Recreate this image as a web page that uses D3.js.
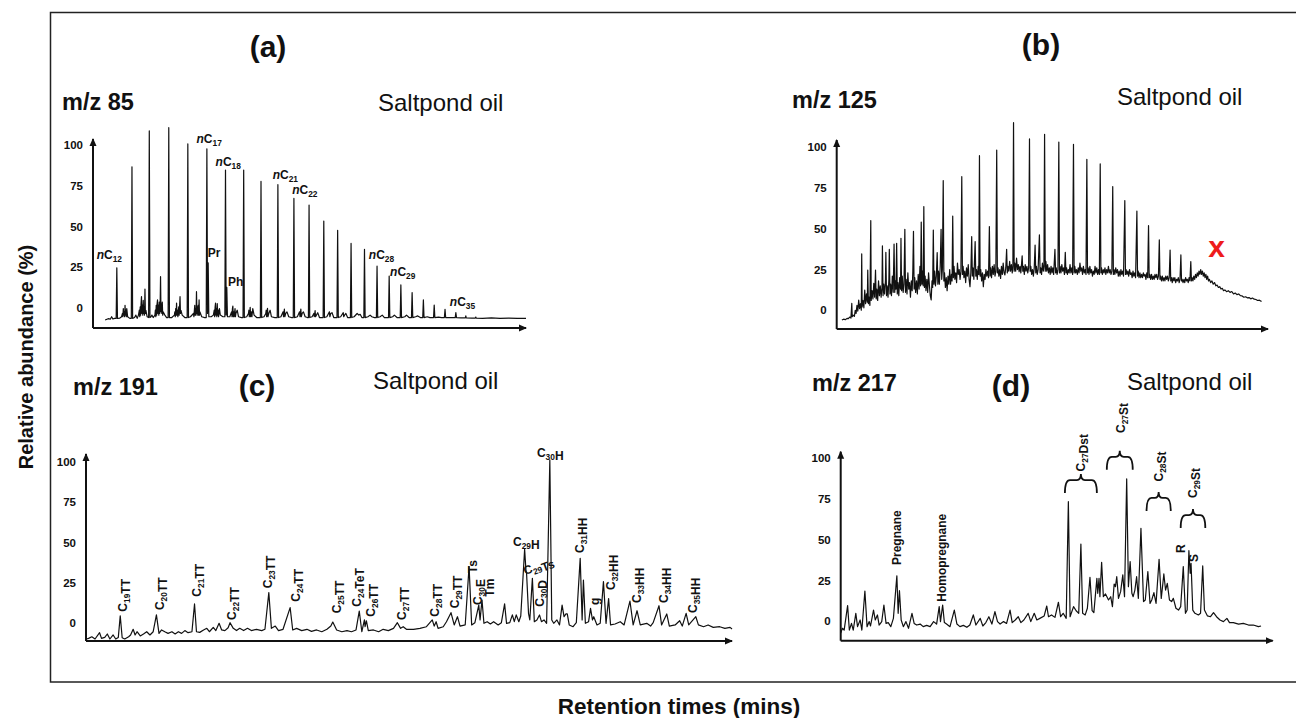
<!DOCTYPE html>
<meta charset="utf-8">
<style>
body { margin: 0; background: #fff; }
svg text { font-family: "Liberation Sans", Arial, sans-serif; fill: #111; }
.trace { fill: none; stroke: #111; stroke-width: 1.2px; stroke-linejoin: round; }
.axis-line { stroke: #111; stroke-width: 2px; }
.bracket { fill: none; stroke: #111; stroke-width: 1.8px; }
.tick text { font-size: 11.5px; font-weight: bold; }
.peak-label { font-size: 12px; font-weight: bold; }
</style>
<svg width="1296" height="718"></svg>
<script src="https://d3js.org/d3.v7.min.js"></script>
<script>

// ---- data: [retention (0-100 along axis), relative abundance %] ----

// m/z 85, n-alkanes with UCM clusters
var m85Trace = [[2.8,0],[3.5,0.8],[4.0,0.5],[4.3,2],[4.6,0.6],[5.0,1],
  [5.35,1],[5.5,32],[5.65,1],
  [6.2,1.2],[6.6,2],[6.8,4],[6.9,2],[7.0,7],[7.1,3],[7.2,5],[7.3,2],[7.4,9],[7.5,3],[7.6,6],[7.7,2],[7.8,7],[8.0,2],[8.5,1],
  [8.85,1],[9.0,94],[9.15,1],
  [9.6,1.5],[9.9,3],[10.2,1],[10.5,3],[10.7,6],[10.8,2],[10.9,8],[11.0,3],[11.1,10],[11.2,14.3],[11.3,4],[11.4,9],[11.5,3],[11.6,12],[11.7,4],[11.8,8],[11.9,3],[12.0,19],[12.1,4],[12.2,6],[12.5,2],
  [12.85,1.5],[13.0,116],[13.15,1.5],
  [13.4,2],[13.6,3],[13.9,1.5],[14.3,3],[14.4,6],[14.5,2],[14.6,9],[14.7,3],[14.8,10],[14.9,12.3],[15.0,4],[15.1,9],[15.2,3],[15.3,11],[15.4,4],[15.5,8],[15.6,26.6],[15.7,5],[15.8,10],[15.9,4],[16.0,11],[16.1,3],[16.2,5],[16.6,3],[17.0,1.5],
  [17.35,1.5],[17.5,118],[17.65,1.5],
  [18.2,1.5],[18.8,3],[18.9,5],[19.0,2],[19.1,7],[19.2,3],[19.3,10.4],[19.4,3],[19.5,6],[19.6,2],[19.8,8],[19.9,3],[20.1,14.3],[20.2,4],[20.3,6],[20.6,3],[21.2,1.5],
  [21.75,1.5],[21.9,108],[22.05,1.5],
  [22.5,2],[23.2,4],[23.3,2],[23.5,9],[23.6,3],[23.7,7],[23.8,3],[23.9,17.4],[24.0,4],[24.1,8],[24.2,3],[24.3,9],[24.4,3],[24.5,12.3],[24.6,3],[24.7,5],[25.1,2],[25.8,1.5],
  [26.15,1.5],[26.3,105],[26.45,4],[26.6,35],[26.75,2],
  [27.3,2],[27.8,3],[28.0,6],[28.1,2],[28.2,8],[28.3,10.4],[28.4,3],[28.5,7],[28.6,2],[28.7,10],[28.8,3],[28.9,6],[29.0,2],[29.2,7],[29.4,3],[30.0,2],
  [30.45,2],[30.6,92],[30.75,3],[30.9,20],[31.05,2],
  [31.6,2],[32.0,5],[32.1,2],[32.2,7],[32.3,8.6],[32.4,2],[32.5,5],[32.6,2],[32.8,7],[32.9,2],[33.0,4],[33.3,6],[33.6,2],[34.3,1.5],
  [34.65,1.5],[34.8,92],[34.95,1.5],
  [35.5,2],[35.9,4],[36.0,6],[36.1,2],[36.3,7.8],[36.4,2],[36.6,5],[36.7,2],[36.9,7],[37.2,3],[37.8,1.5],
  [38.65,1.5],[38.8,85],[38.95,1.5],
  [39.5,2],[39.9,4],[40.0,6],[40.1,2],[40.3,7.2],[40.4,2],[40.6,4],[40.9,6],[41.2,2],[42.0,1.5],
  [42.55,1.5],[42.7,83],[42.85,1.5],
  [43.4,2],[43.9,5],[44.0,2],[44.2,6.7],[44.3,2],[44.5,4],[44.8,5],[45.2,2],[45.9,1.5],
  [46.25,1.5],[46.4,74.6],[46.55,1.5],
  [47.2,2],[47.7,5],[47.8,2],[48.0,6.7],[48.1,2],[48.3,4],[48.6,5],[49.0,2],[49.5,1.5],
  [49.75,1.5],[49.9,70.5],[50.05,1.5],
  [50.6,2],[51.0,4],[51.1,2],[51.3,5.7],[51.4,2],[51.6,3],[51.9,4.5],[52.3,1.5],
  [53.15,1.5],[53.3,60.7],[53.45,1.5],
  [54.0,2],[54.6,5],[54.7,2],[54.9,4],[55.2,4.5],[55.6,1.5],
  [56.35,1.5],[56.5,55],[56.65,1.5],
  [57.2,2],[57.8,4.5],[57.9,2],[58.1,3],[58.4,4],[58.8,1.5],
  [59.45,1.5],[59.6,47],[59.75,1.5],
  [60.3,2],[61.0,4],[61.4,3],[61.7,3.5],[62.1,1.5],
  [62.55,1.5],[62.7,43.4],[62.85,1.5],
  [63.5,2],[64.0,3],[64.4,2],[65.0,1.5],
  [65.45,1.5],[65.6,33],[65.75,1.5],
  [66.3,2],[66.8,3],[67.3,1.5],
  [68.25,1.5],[68.4,27],[68.55,1.5],
  [69.2,2],[69.6,3],[70.2,1.5],
  [70.95,1.5],[71.1,21.5],[71.25,1.5],
  [72.0,2],[72.4,3],[73.0,1.5],
  [73.55,1.5],[73.7,16.8],[73.85,1.5],
  [74.5,2],[75.0,2.5],[75.6,1.5],
  [76.15,1.5],[76.3,12.3],[76.45,1.5],
  [77.2,2],[77.8,1.5],
  [78.65,1.5],[78.8,9.2],[78.95,1.5],
  [79.8,1.8],[80.5,1.5],
  [81.15,1.5],[81.3,6.5],[81.45,1.5],
  [82.5,1.5],
  [83.65,1.5],[83.8,4.5],[83.95,1.5],
  [85,1.3],[86,1.3],[86.1,2.6],[86.2,1.3],
  [87.5,1.2],[88.3,1.2],[88.4,1.8],[88.5,1.2],
  [90,1],[92,1.3],[94,1],[96,1.2],[98,1],[100,1]];

var m85Labels = [["nC_12",0.85,37.4],["nC_17",23.9,108.6],["nC_18",28.3,94.5],["Pr",26.5,38.7],
  ["Ph",31.2,20.9],["nC_21",41.5,86.5],["nC_22",46.0,77.3],["nC_28",63.7,37.4],
  ["nC_29",68.6,27],["nC_35",82.4,8.6]];

// m/z 125, alkylbenzenes on a hump
var m125Trace = [[1.2,0],[1.6,0.5],[2.0,0.2],[2.4,1],[2.7,0.8],[3.0,1.8],[3.3,1.2],[3.5,10.2],[3.6,2],
  [3.8,3],[4.1,2.2],[4.3,6],[4.5,4],[4.7,9],[4.9,5.5],[5.1,12.3],[5.3,7],[5.5,10],[5.7,6],[5.8,40.6],
  [5.9,8],[6.1,12],[6.3,7.5],[6.5,18.4],[6.7,10],[6.9,16],[7.1,11],[7.2,30.7],[7.35,10],[7.5,14],
  [7.7,9],[7.9,61.1],[8.0,12],[8.2,18],[8.4,13],[8.6,22.5],[8.8,14],[9.0,30.7],[9.15,13],[9.3,19],
  [9.5,12],[9.7,24],[9.9,15],[10.1,21],[10.3,14],[10.5,20],[10.6,45.5],[10.75,15],[10.9,22],[11.1,16],
  [11.3,24],[11.4,41.6],[11.55,15],[11.7,21],[11.9,14],[12.1,25],[12.2,43.4],[12.35,16],[12.5,22],
  [12.7,15],[12.9,27],[13.1,17],[13.3,46.7],[13.45,17],[13.6,24],[13.75,19],[13.9,47.1],[14.05,16],
  [14.2,23],[14.4,15],[14.6,26],[14.8,19],[14.9,50.2],[15.05,18],[15.2,27],[15.4,17],[15.6,22],
  [15.8,55.7],[15.95,17],[16.1,25],[16.3,16],[16.5,29],[16.7,19],[16.9,23],[17.1,14],[17.3,24],
  [17.5,18],[17.65,30],[17.8,54.5],[17.95,19],[18.1,26],[18.3,17],[18.5,24],[18.7,16],[18.9,28],
  [19.1,19],[19.3,33],[19.45,21],[19.6,60.2],[19.75,22],[19.9,30],[20.05,21],[20.2,69.7],[20.35,20],
  [20.5,27],[20.7,18],[20.9,25],[21.1,17],[21.3,29],[21.5,21],[21.7,15],[21.9,12.3],[22.1,24],
  [22.25,20],[22.4,55.3],[22.55,22],[22.7,30],[22.9,21],[23.1,27],[23.3,41.4],[23.45,22],[23.6,30],
  [23.8,22],[24.0,33],[24.2,55.7],[24.35,25],[24.5,31],[24.7,85.7],[24.85,24],[25.0,29],[25.2,20],
  [25.4,26],[25.6,18],[25.8,27],[26.0,22],[26.2,31],[26.4,22],[26.6,28],[26.75,24],[26.9,63.9],
  [27.05,26],[27.2,33],[27.4,25],[27.6,29],[27.8,23],[28.0,35],[28.2,28],[28.4,31],[28.6,25],[28.8,30],
  [29.0,88.1],[29.15,28],[29.3,33],[29.5,26],[29.7,30],[29.9,23],[30.1,32],[30.3,27],[30.5,34],
  [30.7,25],[30.9,20.5],[31.1,29],[31.3,51.2],[31.45,27],[31.6,32],[31.8,25],[32.1,48.2],[32.25,27],
  [32.4,31],[32.6,25],[32.8,33],[32.95,28],[33.1,101],[33.25,27],[33.4,31],[33.6,24],[33.8,29],
  [34.0,20.5],[34.2,28],[34.4,25],[34.6,31],[34.8,27],[35.0,30],[35.2,26],[35.4,57.4],[35.55,27],
  [35.7,32],[35.9,26],[36.1,33],[36.3,28],[36.5,34],[36.7,27],[36.9,30],[37.1,104.5],[37.25,29],
  [37.4,32],[37.6,27],[37.8,31],[38.0,25.6],[38.2,33],[38.4,28],[38.6,35],[38.8,29],[39.0,27.7],
  [39.2,32],[39.4,43.4],[39.55,29],[39.7,33],[39.9,30],[40.1,36],[40.3,30],[40.5,34],[40.7,29],
  [40.85,33],[41.0,121.3],[41.15,30],[41.3,35],[41.5,30],[41.7,38],[41.9,31],[42.1,34],[42.3,29.7],
  [42.5,33],[42.7,29],[43.0,39.5],[43.15,30],[43.3,33],[43.5,28],[43.7,34],[43.9,30],[44.1,33],
  [44.3,29],[44.5,32],[44.7,111.3],[44.85,30],[45.0,33],[45.2,28],[45.4,31],[45.6,27],[45.8,32],
  [46.0,46.1],[46.15,29],[46.3,33],[46.5,28],[46.7,31],[47.0,52.3],[47.15,29],[47.3,32],[47.5,28],
  [47.7,35],[47.9,30],[48.05,33],[48.2,114.1],[48.35,30],[48.5,36],[48.7,30],[48.9,34],[49.1,29],
  [49.3,32],[49.5,28],[49.7,33],[49.9,29],[50.1,32],[50.3,28],[50.6,43.4],[50.75,29],[50.9,32],
  [51.1,28],[51.3,31],[51.5,109.4],[51.65,29],[51.8,33],[52.0,29],[52.2,34],[52.4,30],[52.6,32],
  [52.8,28],[53.0,41.6],[53.15,29],[53.3,32],[53.5,28],[53.7,31],[53.9,29],[54.1,34],[54.3,29],
  [54.5,32],[54.7,28],[54.9,108],[55.05,29],[55.2,33],[55.4,29],[55.6,31],[55.8,28],[56.0,32],
  [56.2,29],[56.4,35],[56.6,30],[56.8,32],[57.0,28],[57.2,33],[57.4,29],[57.6,31],[57.8,28],
  [58.0,98.8],[58.15,29],[58.3,32],[58.5,28],[58.7,33],[58.9,29],[59.1,31],[59.3,27],[59.5,30],
  [59.7,28],[59.9,33],[60.1,29],[60.3,32],[60.5,28],[60.7,31],[60.9,28],[61.1,95.9],[61.25,29],
  [61.4,32],[61.6,28],[61.8,31],[62.0,29],[62.2,32],[62.4,28],[62.6,31],[62.8,29],[63.0,33],
  [63.2,29],[63.4,31],[63.6,28],[63.8,30],[64.0,82],[64.15,28],[64.3,31],[64.5,28],[64.7,32],
  [64.9,29],[65.1,31],[65.3,27],[65.5,30],[65.7,27],[65.9,31],[66.1,28],[66.3,30],[66.5,27],
  [66.8,73.4],[66.95,28],[67.1,31],[67.3,28],[67.5,30],[67.7,27],[67.9,31],[68.1,28],[68.3,29],
  [68.5,26],[68.7,30],[68.9,27],[69.1,29],[69.3,26],[69.6,67],[69.75,27],[69.9,30],[70.1,26],
  [70.3,29],[70.5,26],[70.7,28],[70.9,26],[71.1,29],[71.3,27],[71.5,28],[71.7,25],[71.9,29],
  [72.1,26],[72.3,58],[72.45,26],[72.6,28],[72.8,25],[73.0,28],[73.2,25],[73.4,27],[73.6,25],
  [73.8,28],[74.0,26],[74.2,28],[74.4,25],[74.6,27],[74.8,49.2],[74.95,25],[75.1,27],[75.3,24],
  [75.5,27],[75.7,24],[75.9,26],[76.1,24],[76.3,27],[76.5,25],[76.7,27],[76.9,24],[77.1,26],
  [77.3,43],[77.45,24],[77.6,26],[77.8,23],[78.0,26],[78.2,24],[78.4,26],[78.6,23],[78.8,25],
  [79.0,24],[79.2,26],[79.4,23],[79.6,25],[79.8,40],[79.95,24],[80.1,25],[80.3,23],[80.5,25],
  [80.7,23],[80.9,26],[81.1,24],[81.3,25],[81.5,23],[81.7,26],[81.9,24],[82.1,35.9],[82.25,24],
  [82.4,26],[82.6,24],[82.8,27],[83.0,25],[83.2,28],[83.4,26],[83.6,29],[83.8,27],[84.0,30],
  [84.2,28],[84.4,31],[84.6,28],[84.8,30],[85.0,27],[85.2,29],[85.4,26],[85.6,28],[85.8,25],
  [86.0,27],[86.2,24],[86.4,25],[86.7,23],[87.0,24],[87.3,22],[87.6,23],[87.9,21],[88.2,21.5],
  [88.5,20],[88.8,20.5],[89.1,19],[89.4,19.5],[89.7,18],[90.0,18.5],[90.4,17.4],[90.8,18],[91.2,17],
  [91.6,17.5],[92.0,16],[92.4,16.6],[92.8,15.6],[93.2,16],[93.6,15],[94.0,14.8],[94.4,14],[94.8,14.3],
  [95.2,13.6],[95.6,13.8],[96.0,13],[96.4,13.5],[96.8,12.8],[97.2,12.6],[97.6,12],[98.0,12.2],
  [98.5,11.3]];

var m125Marks = [["x",88.1,38.9]];

// m/z 191, terpanes
var m191Trace = [[0.1,0],[0.4,0.4],[0.9,1.4],[1.4,0],[2.1,3.9],[2.4,0.4],[2.9,1],[3.3,3.1],[3.7,0],
  [4.2,2.5],[4.6,0],[5.0,1],[5.3,14.4],[5.6,0.8],[6.0,0],[6.6,1.4],[6.9,2.5],[7.3,6],[7.6,2.5],
  [7.9,4.5],[8.4,1.9],[8.9,3.1],[9.4,4.5],[9.9,2.5],[10.4,4.5],[10.9,14.9],[11.3,3.5],[11.7,5.6],
  [12.2,4.5],[12.7,3.5],[13.3,4.5],[13.8,3.1],[14.3,4.5],[14.8,3.5],[15.3,5.2],[15.8,3.9],[16.4,4.5],
  [16.8,21.7],[17.1,4.5],[17.6,4.1],[18.2,5.6],[18.7,6.6],[19.1,4.5],[19.7,7.2],[20.1,5.2],[20.6,9.7],
  [21.0,5.6],[21.5,5.2],[22.0,7],[22.3,10.1],[22.8,6.6],[23.3,5.2],[23.8,6.6],[24.4,5.2],[25.0,6.6],
  [25.6,5.2],[26.4,6],[27.2,5.2],[27.7,6],[28.3,28.7],[28.7,6.6],[29.3,8],[29.8,5.2],[30.5,6],
  [31.6,19.4],[32.0,5.6],[32.6,6.6],[33.4,5.2],[34.2,6],[34.9,4.7],[35.7,5.6],[36.5,4.5],[37.3,6],
  [37.9,8],[38.2,10.5],[38.5,8],[38.8,5.6],[39.6,4.5],[40.4,5.2],[41.1,4.5],[41.8,5.6],[42.3,17.3],
  [42.7,4.5],[43.1,11.8],[43.2,7.6],[43.4,11.3],[43.7,5.2],[44.5,5.6],[45.3,4.5],[46.0,6],[46.8,5.2],
  [47.6,6.6],[48.2,10.1],[48.7,6.6],[49.1,7.6],[49.6,6],[50.7,6],[51.7,6.6],[52.7,7.6],[53.6,11.8],
  [53.9,8],[54.2,10.7],[54.5,6.6],[55.3,7.6],[55.8,10.7],[56.5,16.3],[57.0,8.7],[57.5,13.8],[57.9,8],
  [58.7,8.7],[59.3,44.8],[59.7,8.7],[60.2,10.1],[60.8,21],[61.0,11.8],[61.3,24.1],[61.6,9.7],
  [62.1,10.7],[62.6,9.3],[63.1,10.7],[63.8,8.7],[64.3,10.1],[64.8,21.7],[65.1,9.7],[65.6,10.1],
  [66.0,14.9],[66.3,10.7],[66.6,14.9],[67.0,10.7],[67.3,14.2],[67.9,55.5],[68.1,42.7],[68.2,40.6],
  [68.5,15.9],[68.7,11.8],[69.1,37.5],[69.4,10.7],[69.8,11.8],[70.2,14.9],[70.5,10.7],[70.9,11.8],
  [71.3,9.7],[71.8,110.8],[72.1,11.8],[72.4,9.7],[72.9,11.8],[73.3,8.7],[73.7,21],[74.0,13.8],
  [74.3,15.5],[74.5,15.5],[74.8,8.7],[75.4,7.6],[75.9,10.1],[76.5,49.9],[76.8,11.8],[77.0,36.5],
  [77.3,9.7],[77.8,10.7],[78.1,19],[78.4,11.8],[78.6,13.8],[79.1,8.7],[79.6,9.7],[80.1,35.5],
  [80.5,9.7],[80.9,25],[81.2,8.7],[81.9,9.3],[82.7,10.7],[83.3,8.7],[84.2,23.5],[84.7,8.7],
  [85.3,17.5],[85.8,8.7],[86.8,9.7],[87.4,8],[87.8,10.1],[88.7,20.6],[89.1,8.7],[89.9,15.5],
  [90.3,8],[91.2,8.7],[91.9,11.3],[92.3,8],[92.9,15.9],[93.3,8.7],[94.4,13.8],[94.8,8.7],[95.6,7.6],
  [96.3,8.7],[97.1,7.2],[98.1,7.6],[98.9,6.6],[99.7,7.2],[100,6.2]];

var m191Labels = [["C_19TT",5.7,16.9],["C_20TT",11.4,17.9],["C_21TT",17.1,26.2],["C_22TT",22.5,11.8],
  ["C_23TT",28.2,31.4],["C_24TT",32.4,23.1],["C_25TT",38.8,15.9],["C_24TeT",41.9,20],
  ["C_26TT",44.0,13.8],["C_27TT",48.9,11.8],["C_28TT",54.0,13.8],["C_29TT",57.0,19],
  ["Ts",59.8,40.7],["C_30E",60.7,21],["Tm",62.5,26.2],["C_29H",66.1,57.5],["C_29Ts",68.0,39.6],
  ["C_30D",70.3,20],["C_30H",69.8,112.8],["C_31HH",76.5,53.2],["g",78.8,21],["C_32HH",81.3,30.3],
  ["C_33HH",85.3,22.3],["C_34HH",89.5,22.3],["C_35HH",93.9,16.1]];

// m/z 217, steranes
var m217Trace = [[0,0],[0.4,2.9],[0.8,1.8],[1.6,16.8],[2.0,1.8],[2.5,5.9],[2.9,1.8],[3.5,12.1],
  [3.9,3.9],[4.5,8],[4.9,1.8],[5.6,25.8],[6.1,3.9],[6.6,7],[6.9,4.3],[7.6,14.1],[8.0,8],[8.5,11.1],
  [8.9,4.9],[9.5,7],[10.0,17.2],[10.5,5.9],[11.0,6.4],[11.6,3.9],[12.2,9],[13.0,35.2],[13.3,12.1],
  [13.6,26],[14.0,8],[14.5,3.9],[15.1,7],[15.7,2.9],[16.5,12.1],[17.0,5.9],[17.6,4.9],[18.4,5.5],
  [19.1,3.9],[19.9,4.7],[20.7,3.9],[21.5,7],[22.2,5.5],[22.8,16.2],[23.1,7],[23.6,17.2],[24.0,6.4],
  [24.5,5.5],[25.3,3.9],[26.3,14.1],[26.9,5.5],[27.6,3.9],[28.4,4.7],[29.2,3.5],[29.9,4.9],
  [30.7,11.1],[31.3,4.9],[32.3,9],[32.9,4.3],[33.6,6.4],[34.3,10],[35.0,5.5],[35.7,13.1],[36.3,7],
  [36.9,5.5],[37.7,7],[38.4,5.9],[39.2,14.1],[39.7,6.4],[40.4,8],[41.1,10],[41.7,6.4],[42.4,8],
  [43.4,12.1],[44.0,7],[44.8,12.1],[45.4,8],[46.1,9],[47.1,10.5],[47.7,16.6],[48.1,10],[48.8,11.1],
  [49.6,9.6],[50.4,18.9],[50.9,10],[51.5,12.1],[52.2,9],[52.7,80.7],[53.1,10],[53.9,16.2],
  [54.5,13.7],[55.1,12.1],[55.6,54.7],[56.0,12.1],[56.6,11.1],[57.1,15.2],[57.7,34.2],[58.2,13.7],
  [58.6,12.5],[59.3,33.6],[59.5,24.4],[59.8,33.6],[60.0,22.3],[60.4,43.4],[60.8,22.3],[61.3,24],
  [62.0,20.3],[62.5,22.3],[62.9,16.2],[63.3,30.1],[63.6,28.5],[63.9,34.6],[64.3,21.3],[64.8,25.4],
  [65.3,35.7],[65.7,22.3],[66.2,94.7],[66.6,28.5],[67.0,43.9],[67.4,24.4],[67.7,22.3],[68.1,26.4],
  [68.5,34.6],[68.9,21.3],[69.5,64.3],[70.1,19.3],[70.5,20.3],[71.1,37.7],[71.6,18.2],[72.0,20.3],
  [72.5,24.8],[73.0,18.2],[73.7,45.3],[74.2,21.3],[74.5,28.5],[74.8,36.3],[75.2,26.4],[75.6,30.5],
  [76.1,20.3],[76.6,19.3],[77.0,21.3],[77.6,15.2],[78.2,14.1],[78.7,16.2],[79.3,40.8],[79.8,12.1],
  [80.2,14.1],[80.6,50.6],[80.9,36.7],[81.1,42.8],[81.5,14.1],[82.0,12.1],[82.8,11.1],[83.3,12.1],
  [83.8,41.2],[84.2,14.1],[84.9,10.5],[85.6,10],[86.3,12.5],[87.0,10],[87.8,8],[88.6,7],[89.4,9],
  [90.0,6.4],[90.9,6.4],[92.1,5.5],[93.2,5.9],[94.4,4.9],[95.5,4.9],[96.7,3.9],[97.3,4.3]];

var m217Labels = [["Pregnane",13.0,41.8],["Homopregnane",23.4,19.2],["C_27Dst",55.6,99.3],
  ["C_27St",64.7,122.9],["C_28St",73.5,93.1],["C_29St",81.5,83.0],["R",78.8,49.2],["S",81.8,43.6]];

// bracket groups: [from, to, level]
var m217Groups = [[51.9,59.3,94.0],[61.6,67.6,108.3],[70.8,76.4,83.0],[78.7,84.4,72.5]];

var tickValues = [0, 25, 50, 75, 100];

// ---- layout ----
var panels = [
  { tag: "(a)", tagX: 268, tagY: 57, ion: "m/z 85", ionX: 62, ionY: 110, oilX: 378, oilY: 111,
    trace: m85Trace, labels: m85Labels, angle: {},
    x0: 93, x1: 526, y0: 320, k: 1.63, top: 139, axisY: 328, tickShift: -12 },
  { tag: "(b)", tagX: 1041, tagY: 55, ion: "m/z 125", ionX: 792, ionY: 108, oilX: 1117, oilY: 105,
    trace: m125Trace, labels: [], angle: {},
    x0: 836.7, x1: 1268, y0: 320, k: 1.627, top: 140, axisY: 329, tickShift: -10 },
  { tag: "(c)", tagX: 257, tagY: 396, ion: "m/z 191", ionX: 73, ionY: 395, oilX: 373, oilY: 389,
    trace: m191Trace, labels: m191Labels,
    angle: { def: -90, "C_29H": 0, "C_30H": 0, "C_29Ts": -20 },
    x0: 86, x1: 732, y0: 639, k: 1.616, top: 454, axisY: 641, tickShift: -15.7 },
  { tag: "(d)", tagX: 1011, tagY: 396, ion: "m/z 217", ionX: 812, ionY: 391, oilX: 1127, oilY: 390,
    trace: m217Trace, labels: m217Labels, angle: { def: -90 },
    x0: 840.7, x1: 1272.7, y0: 633, k: 1.627, top: 451.7, axisY: 640.7, tickShift: -12 }
];

var svg = d3.select("svg");

svg.append("defs").append("marker")
    .attr("id", "arrow")
    .attr("viewBox", "0 -4 8 8")
    .attr("refX", 7)
    .attr("refY", 0)
    .attr("markerUnits", "userSpaceOnUse")
    .attr("markerWidth", 8)
    .attr("markerHeight", 8)
    .attr("orient", "auto")
  .append("path")
    .attr("d", "M0,-3.5L8,0L0,3.5Z")
    .attr("fill", "#111");

svg.append("rect")
    .attr("x", 50.5).attr("y", 12.5)
    .attr("width", 1300).attr("height", 669.5)
    .attr("fill", "none").attr("stroke", "#222").attr("stroke-width", 1.5);

svg.append("text")
    .attr("transform", "translate(33,357) rotate(-90)")
    .attr("text-anchor", "middle")
    .style("font-size", "20px").style("font-weight", "bold")
    .text("Relative abundance (%)");

svg.append("text")
    .attr("x", 679).attr("y", 714)
    .attr("text-anchor", "middle")
    .style("font-size", "22.5px").style("font-weight", "bold")
    .text("Retention times (mins)");

// writes "C_27St" as C + subscript 27 + St, leading n italic
function labelText(sel, name, size) {
  var parts = name.split(/_(\d+)/);
  parts.forEach(function(p, i) {
    if (!p) return;
    if (i % 2 === 1) {
      sel.append("tspan").attr("dy", 3).style("font-size", (size * 0.7) + "px").text(p);
      sel.append("tspan").attr("dy", -3).text("");
    } else if (/^nC/.test(p)) {
      sel.append("tspan").style("font-style", "italic").text("n");
      sel.append("tspan").text(p.slice(1));
    } else {
      sel.append("tspan").text(p);
    }
  });
}

panels.forEach(function(p) {
  var x = d3.scaleLinear().domain([0, 100]).range([p.x0, p.x1]);
  var y = d3.scaleLinear().domain([0, 100]).range([p.y0, p.y0 - 100 * p.k]);
  var g = svg.append("g");

  g.append("text").attr("x", p.tagX).attr("y", p.tagY).attr("text-anchor", "middle")
      .style("font-size", "30px").style("font-weight", "bold").text(p.tag);
  g.append("text").attr("x", p.ionX).attr("y", p.ionY)
      .style("font-size", "23.5px").style("font-weight", "bold").text(p.ion);
  g.append("text").attr("x", p.oilX).attr("y", p.oilY)
      .style("font-size", "24px").text("Saltpond oil");

  // axes drawn as arrows, tick labels only
  g.append("line").attr("class", "axis-line")
      .attr("x1", p.x0).attr("y1", p.axisY).attr("x2", p.x0).attr("y2", p.top)
      .attr("marker-end", "url(#arrow)");
  g.append("line").attr("class", "axis-line")
      .attr("x1", p.x0).attr("y1", p.axisY).attr("x2", p.x1).attr("y2", p.axisY)
      .attr("marker-end", "url(#arrow)");

  var yAxis = g.append("g")
      .attr("transform", "translate(" + p.x0 + "," + p.tickShift + ")")
      .call(d3.axisLeft(y).tickValues(tickValues).tickSize(0).tickPadding(10));
  yAxis.select(".domain").remove();
  yAxis.selectAll("text").attr("fill", "#111")
      .style("font-family", "'Liberation Sans', Arial, sans-serif");

  var line = d3.line()
      .x(function(d) { return x(d[0]); })
      .y(function(d) { return y(d[1]); });

  g.append("path").datum(p.trace).attr("class", "trace").attr("d", line);

  p.labels.forEach(function(l) {
    var a = l[0] in p.angle ? p.angle[l[0]] : (p.angle.def || 0);
    var tx = x(l[1]) + (a === -90 ? 4.3 : 0);
    var t = g.append("text").attr("class", "peak-label")
        .attr("transform", "translate(" + tx + "," + y(l[2]) + ")" + (a ? " rotate(" + a + ")" : ""));
    labelText(t, l[0], 12);
  });

  if (p.ion === "m/z 125") {
    m125Marks.forEach(function(m) {
      g.append("text").attr("x", x(m[1])).attr("y", y(m[2])).attr("text-anchor", "middle")
          .style("font-size", "30px").style("font-weight", "bold").style("fill", "#ee1c1c")
          .text(m[0]);
    });
  }

  if (p.ion === "m/z 217") {
    m217Groups.forEach(function(b) {
      var xl = x(b[0]), xr = x(b[1]), xm = (xl + xr) / 2, yb = y(b[2]);
      g.append("path").attr("class", "bracket")
          .attr("d", "M" + xl + "," + (yb + 13) + "Q" + xl + "," + yb + " " + (xl + 5) + "," + yb +
                "L" + (xm - 4) + "," + yb + "Q" + xm + "," + yb + " " + xm + "," + (yb - 6) +
                "Q" + xm + "," + yb + " " + (xm + 4) + "," + yb +
                "L" + (xr - 5) + "," + yb + "Q" + xr + "," + yb + " " + xr + "," + (yb + 13));
    });
  }
});

</script>
